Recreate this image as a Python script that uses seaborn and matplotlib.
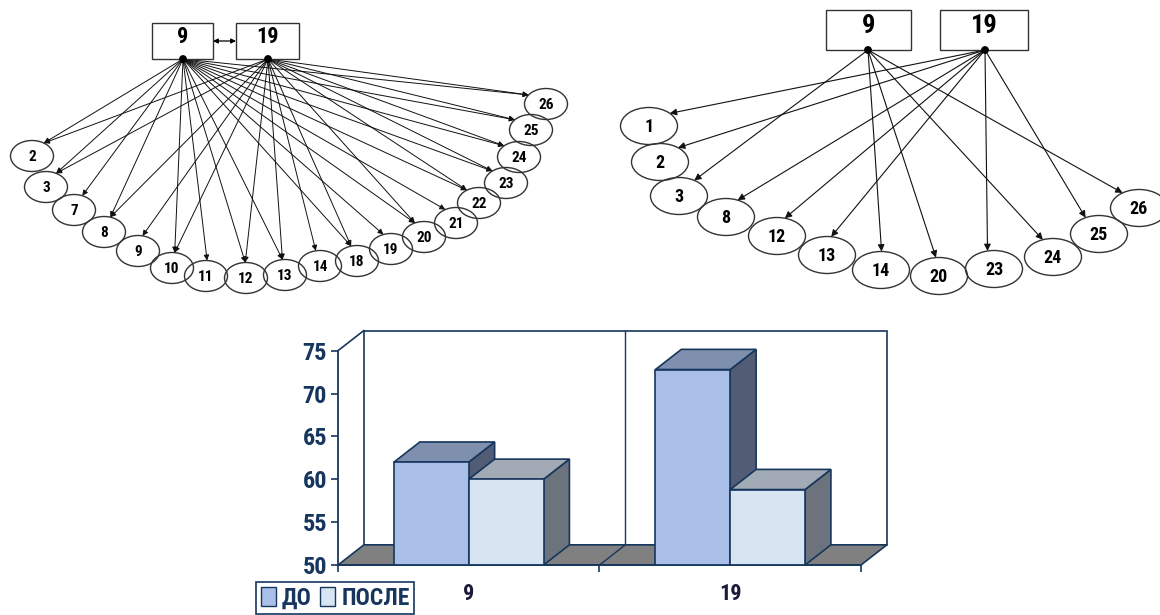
import matplotlib
matplotlib.use("Agg")
import matplotlib.pyplot as plt
from matplotlib import font_manager
from matplotlib.patches import Ellipse, Rectangle, FancyArrowPatch, Polygon, Patch, Circle
import numpy as np
import pandas as pd
import seaborn as sns

# ---- bar chart data ----
groups = ["9", "9", "19", "19"]
periods = ["ДО", "ПОСЛЕ", "ДО", "ПОСЛЕ"]
values = [62.0, 60.0, 72.8, 58.8]
group_order = ["9", "19"]
period_order = ["ДО", "ПОСЛЕ"]
y_ticks = [50, 55, 60, 65, 70, 75]

# ---- network diagrams: sources and connected nodes ----
sources = ["9", "19"]
net1_nodes = ["2", "3", "7", "8", "9", "10", "11", "12", "13", "14",
              "18", "19", "20", "21", "22", "23", "24", "25", "26"]
net1_from9 = ["2", "3", "7", "8", "10", "11", "12", "13", "18", "19",
              "20", "21", "22", "23", "24", "25", "26"]
net1_from19 = ["2", "3", "8", "9", "10", "12", "13", "14", "18", "20",
               "22", "23", "24", "25", "26"]
net2_nodes = ["1", "2", "3", "8", "12", "13", "14", "20", "23", "24", "25", "26"]
net2_from9 = ["3", "14", "20", "24", "26"]
net2_from19 = ["1", "2", "8", "12", "13", "23", "25"]

# ---- layout (pixel space) ----
W, H = 1160, 615
net1_layout = {
    "2": (32, 156), "3": (46, 187), "7": (74, 210), "8": (104, 232), "9": (138, 251),
    "10": (172, 268), "11": (206, 276), "12": (246, 278), "13": (285, 275),
    "14": (320, 266), "18": (357, 261), "19": (391, 249), "20": (424, 237),
    "21": (456, 223), "22": (479, 203), "23": (506, 183), "24": (519, 157),
    "25": (531, 130), "26": (546, 104),
}
net1_boxes = {"9": (152, 23, 61, 36), "19": (236, 23, 63, 36)}
net1_src = {"9": (183, 59), "19": (268, 59)}
net2_layout = {
    "1": (649, 126), "2": (660, 162), "3": (679, 196), "8": (726, 217),
    "12": (777, 236), "13": (827, 255), "14": (881, 270), "20": (939, 276),
    "23": (994, 269), "24": (1053, 257), "25": (1099, 234), "26": (1139, 208),
}
net2_boxes = {"9": (826, 10, 85, 40), "19": (940, 10, 88, 40)}
net2_src = {"9": (868, 50), "19": (985, 50)}

navy = "#17365D"
c_do_front, c_do_top, c_do_side = "#AABFE8", "#7F90AE", "#525C75"
c_po_front, c_po_top, c_po_side = "#D7E4F1", "#A2ABB5", "#6C737C"
floor_color = "#808080"

sns.set_style("white")

# pick a narrow sans face if one is installed
installed = {(f.name, f.stretch) for f in font_manager.fontManager.ttflist}
installed_names = {n for n, _ in installed}
narrow_family, narrow_stretch = "Liberation Sans", "normal"
for cand in ["Liberation Sans Narrow", "Roboto Condensed", "Open Sans Condensed"]:
    if cand in installed_names:
        narrow_family = cand
        break
else:
    if any(n == "DejaVu Sans" and s in ("condensed", 300, "semi-condensed")
           for n, s in installed):
        narrow_family, narrow_stretch = "DejaVu Sans", "condensed"
plt.rcParams["font.family"] = [narrow_family, "DejaVu Sans"]
plt.rcParams["font.stretch"] = narrow_stretch
plt.rcParams["text.color"] = "black"

fig = plt.figure(figsize=(W / 100, H / 100), dpi=100)

# ---------------- network diagrams ----------------
net = fig.add_axes([0, 0, 1, 1])
net.set_xlim(0, W)
net.set_ylim(H, 0)
net.axis("off")


def tip_point(center, w, h, aim):
    cx, cy = center
    dx, dy = aim[0] - cx, aim[1] - cy
    t = 1.0 / np.sqrt((dx / (w / 2)) ** 2 + (dy / (h / 2)) ** 2)
    return cx + dx * t, cy + dy * t


def draw_network(nodes, layout, boxes, src, edges, ew, eh, aim,
                 node_fs, box_fs, lw, head):
    for name, (x, y, bw, bh) in boxes.items():
        net.add_patch(Rectangle((x, y), bw, bh, facecolor="white",
                                edgecolor="#333333", lw=1.0, zorder=3))
        net.text(x + bw / 2, y + bh * 0.40, name, ha="center", va="center",
                 fontsize=box_fs, fontweight="bold", color="black", zorder=4)
    for name, targets in edges.items():
        sx, sy = src[name]
        for t in targets:
            tx, ty = tip_point(layout[t], ew, eh, aim)
            net.add_patch(FancyArrowPatch((sx, sy), (tx, ty), arrowstyle="-|>",
                                          mutation_scale=head, lw=lw,
                                          color="#111111", shrinkA=0, shrinkB=0,
                                          zorder=2))
    for name in sources:
        net.add_patch(Circle(src[name], 3.2, color="black", zorder=5))
    for n in nodes:
        net.add_patch(Ellipse(layout[n], ew, eh, facecolor="none",
                              edgecolor="#333333", lw=1.0, zorder=1))
        net.text(layout[n][0], layout[n][1] + 1, n, ha="center", va="center",
                 fontsize=node_fs, fontweight="bold", color="black", zorder=4)


draw_network(net1_nodes, net1_layout, net1_boxes, net1_src,
             {"9": net1_from9, "19": net1_from19}, 43, 31, (230, -60),
             node_fs=11, box_fs=16, lw=0.7, head=8)
# link between the two sources of the first diagram
net.add_patch(FancyArrowPatch((213, 41), (236, 41), arrowstyle="<|-|>",
                              mutation_scale=7, lw=0.9, color="black",
                              shrinkA=0, shrinkB=0))
draw_network(net2_nodes, net2_layout, net2_boxes, net2_src,
             {"9": net2_from9, "19": net2_from19}, 57, 37, (890, -20),
             node_fs=13, box_fs=19, lw=0.8, head=10)

# ---------------- 3D-style bar chart ----------------
ax = fig.add_axes([338 / W, (H - 565) / H, (890 - 338) / W, (565 - 330) / H])
ax.patch.set_alpha(0)

df = pd.DataFrame({"group": groups, "period": periods, "value": values})
sns.barplot(data=df, x="group", y="value", hue="period", order=group_order,
            hue_order=period_order, palette=[c_do_front, c_po_front],
            width=0.572, saturation=1, edgecolor=navy, linewidth=1.2,
            legend=False, ax=ax)
bars = list(ax.patches)

ddx, ddy = 0.099, 2.35
ymin, ymax = y_ticks[0], y_ticks[-1]
x_left, x_right = -0.5, len(group_order) - 0.5
ax.set_xlim(x_left, x_right + ddx + 0.012)
ax.set_ylim(ymin, ymax + ddy + 0.06)

# back wall, category divider, floor
ax.add_patch(Rectangle((x_left + ddx, ymin + ddy), x_right - x_left, ymax - ymin,
                       facecolor="white", edgecolor=navy, lw=1.2, zorder=0.5,
                       clip_on=False))
for k in range(1, len(group_order)):
    xd = k - 0.5
    ax.plot([xd + ddx, xd + ddx], [ymin + ddy, ymax + ddy], color=navy, lw=1.0,
            zorder=0.6)
ax.add_patch(Polygon([(x_left, ymin), (x_right, ymin), (x_right + ddx, ymin + ddy),
                      (x_left + ddx, ymin + ddy)], closed=True,
                     facecolor=floor_color, edgecolor=navy, lw=1.2, zorder=1,
                     clip_on=False))
for k in range(1, len(group_order)):
    xd = k - 0.5
    ax.plot([xd, xd + ddx], [ymin, ymin + ddy], color=navy, lw=1.0, zorder=1.1)
ax.plot([x_left, x_left + ddx], [ymax, ymax + ddy], color=navy, lw=1.2,
        zorder=1, clip_on=False)

# depth faces for each bar
n_groups = len(group_order)
face_colors = {0: (c_do_top, c_do_side), 1: (c_po_top, c_po_side)}
for i, p in enumerate(bars):
    hue_idx = i // n_groups
    top_c, side_c = face_colors[hue_idx]
    x0 = p.get_x()
    x1 = x0 + p.get_width()
    h = p.get_height()
    z = 2 + 2 * hue_idx
    ax.add_patch(Polygon([(x1, ymin), (x1, h), (x1 + ddx, h + ddy),
                          (x1 + ddx, ymin + ddy)], closed=True,
                         facecolor=side_c, edgecolor=navy, lw=1.2, zorder=z))
    ax.add_patch(Polygon([(x0, h), (x1, h), (x1 + ddx, h + ddy),
                          (x0 + ddx, h + ddy)], closed=True,
                         facecolor=top_c, edgecolor=navy, lw=1.2, zorder=z))
    p.set_zorder(z + 1)

for s in ["top", "right"]:
    ax.spines[s].set_visible(False)
ax.spines["left"].set_bounds(ymin, ymax)
ax.spines["bottom"].set_bounds(x_left, x_right)
for s in ["left", "bottom"]:
    ax.spines[s].set_color(navy)
    ax.spines[s].set_linewidth(1.3)
    ax.spines[s].set_zorder(6)

ax.set_yticks(y_ticks)
ax.set_yticklabels([str(v) for v in y_ticks])
ax.tick_params(axis="y", direction="out", length=5, width=1.2, color=navy,
               labelsize=17.5, labelcolor=navy, pad=3, left=True)
for lab in ax.get_yticklabels():
    lab.set_fontweight("bold")

ax.set_xticks(range(n_groups))
ax.set_xticklabels(group_order)
ax.set_xticks([k - 0.5 for k in range(n_groups + 1)], minor=True)
ax.tick_params(axis="x", which="major", length=0, pad=13, labelsize=16,
               labelcolor="#1a1a3a")
ax.tick_params(axis="x", which="minor", direction="out", length=5, width=1.2,
               color=navy, bottom=True)
for lab in ax.get_xticklabels():
    lab.set_fontweight("bold")
ax.set_xlabel("")
ax.set_ylabel("")

handles = [Patch(facecolor=c_do_front, edgecolor=navy, lw=1.0),
           Patch(facecolor=c_po_front, edgecolor=navy, lw=1.0)]
leg = fig.legend(handles, period_order, loc="upper left",
                 bbox_to_anchor=(256 / W, 1 - 582 / H), ncol=2, frameon=True,
                 fancybox=False, edgecolor=navy, framealpha=1,
                 handlelength=0.65, handleheight=0.85, handletextpad=0.25,
                 columnspacing=0.35, borderpad=0.2, borderaxespad=0,
                 prop={"weight": "bold", "size": 17})
leg.get_frame().set_linewidth(1.2)
for t in leg.get_texts():
    t.set_color(navy)

fig.savefig("out.png", dpi=100)
